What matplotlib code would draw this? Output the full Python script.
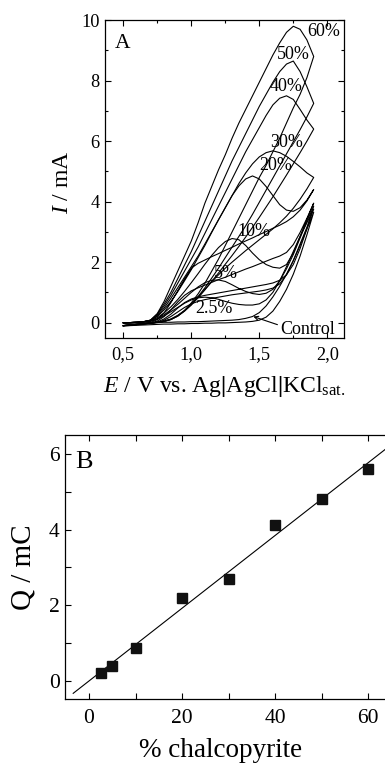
import matplotlib
matplotlib.use("Agg")
import matplotlib.pyplot as plt
import numpy as np
from matplotlib.ticker import MultipleLocator, FuncFormatter

plt.rcParams['font.family'] = ['Liberation Serif', 'DejaVu Serif']
plt.rcParams['mathtext.fontset'] = 'custom'
plt.rcParams['mathtext.rm'] = 'Liberation Serif'
plt.rcParams['mathtext.it'] = 'Liberation Serif:italic'
plt.rcParams['mathtext.bf'] = 'Liberation Serif:bold'

# ---------------- Panel A data (potential grid in V, currents in mA) -------------
E = [0.50, 0.55, 0.60, 0.65, 0.70, 0.75, 0.80, 0.85, 0.90, 0.95, 1.00, 1.05, 1.10, 1.15,
     1.20, 1.25, 1.30, 1.35, 1.40, 1.45, 1.50, 1.55, 1.60, 1.65, 1.70, 1.75, 1.80, 1.85, 1.90]

# forward (anodic) sweeps
fwd_60 = [0.00, 0.00, 0.01, 0.03, 0.08, 0.30, 0.70, 1.20, 1.70, 2.20, 2.70, 3.30, 3.95, 4.50,
          5.05, 5.55, 6.10, 6.60, 7.05, 7.50, 7.95, 8.40, 8.85, 9.25, 9.60, 9.80, 9.70, 9.35, 8.80]
fwd_50 = [0.00, 0.00, 0.01, 0.03, 0.08, 0.28, 0.62, 1.00, 1.45, 1.90, 2.35, 2.85, 3.35, 3.85,
          4.35, 4.85, 5.35, 5.80, 6.25, 6.70, 7.15, 7.55, 7.95, 8.30, 8.55, 8.65, 8.30, 7.80, 7.25]
fwd_40 = [0.00, 0.00, 0.01, 0.03, 0.08, 0.26, 0.55, 0.90, 1.30, 1.70, 2.10, 2.50, 2.95, 3.40,
          3.85, 4.30, 4.75, 5.20, 5.65, 6.05, 6.45, 6.85, 7.20, 7.42, 7.50, 7.38, 7.05, 6.70, 6.40]
fwd_30 = [0.00, 0.00, 0.01, 0.03, 0.07, 0.22, 0.48, 0.80, 1.15, 1.50, 1.85, 2.20, 2.60, 3.00,
          3.40, 3.80, 4.20, 4.60, 4.95, 5.25, 5.48, 5.62, 5.68, 5.62, 5.50, 5.33, 5.15, 4.95, 4.80]
fwd_20 = [0.00, 0.00, 0.01, 0.03, 0.07, 0.20, 0.42, 0.70, 1.02, 1.38, 1.75, 2.15, 2.55, 2.98,
          3.40, 3.80, 4.20, 4.52, 4.75, 4.85, 4.75, 4.50, 4.20, 3.90, 3.72, 3.68, 3.80, 4.05, 4.40]
fwd_10 = [0.00, 0.00, 0.01, 0.03, 0.06, 0.16, 0.32, 0.52, 0.76, 1.03, 1.32, 1.62, 1.93, 2.22,
          2.48, 2.68, 2.78, 2.74, 2.55, 2.30, 2.08, 1.92, 1.83, 1.80, 1.92, 2.30, 2.85, 3.40, 3.95]
fwd_5 = [0.00, 0.00, 0.01, 0.02, 0.05, 0.13, 0.26, 0.42, 0.60, 0.80, 1.00, 1.18, 1.32, 1.40,
         1.41, 1.36, 1.25, 1.13, 1.03, 0.96, 0.93, 0.97, 1.10, 1.38, 1.78, 2.25, 2.80, 3.35, 3.85]
fwd_2_5 = [0.00, 0.00, 0.01, 0.02, 0.04, 0.11, 0.22, 0.36, 0.50, 0.64, 0.75, 0.82, 0.84, 0.82,
           0.77, 0.70, 0.64, 0.60, 0.58, 0.58, 0.62, 0.75, 1.00, 1.38, 1.85, 2.35, 2.85, 3.30, 3.75]
fwd_ctrl = [-0.03, -0.02, -0.02, -0.01, 0.00, 0.00, 0.01, 0.01, 0.02, 0.02, 0.03, 0.03, 0.04, 0.05,
            0.06, 0.07, 0.08, 0.10, 0.14, 0.20, 0.33, 0.55, 0.85, 1.20, 1.60, 2.05, 2.55, 3.10, 3.65]

# reverse sweeps, listed on the same ascending potential grid
rev_60 = [-0.10, -0.08, -0.06, -0.04, -0.02, 0.01, 0.04, 0.10, 0.22, 0.40, 0.65, 0.95, 1.30, 1.70,
          2.10, 2.55, 3.00, 3.45, 3.90, 4.35, 4.80, 5.20, 5.65, 6.10, 6.60, 7.10, 7.55, 8.10, 8.80]
rev_50 = [-0.10, -0.08, -0.06, -0.04, -0.02, 0.01, 0.04, 0.10, 0.21, 0.38, 0.60, 0.86, 1.15, 1.47,
          1.80, 2.15, 2.50, 2.85, 3.20, 3.58, 3.98, 4.38, 4.78, 5.18, 5.58, 5.98, 6.38, 6.80, 7.25]
rev_40 = [-0.10, -0.08, -0.06, -0.04, -0.02, 0.01, 0.04, 0.11, 0.22, 0.38, 0.58, 0.82, 1.08, 1.36,
          1.64, 1.93, 2.22, 2.52, 2.83, 3.15, 3.48, 3.82, 4.16, 4.52, 4.88, 5.25, 5.62, 6.00, 6.40]
rev_30 = [-0.10, -0.08, -0.06, -0.04, -0.02, 0.01, 0.05, 0.12, 0.24, 0.40, 0.60, 0.85, 1.10, 1.35,
          1.58, 1.80, 2.00, 2.19, 2.38, 2.56, 2.74, 2.92, 3.10, 3.30, 3.52, 3.78, 4.08, 4.42, 4.80]
rev_20 = [-0.10, -0.08, -0.06, -0.03, 0.00, 0.10, 0.32, 0.66, 1.05, 1.45, 1.80, 1.96, 2.07, 2.18,
          2.28, 2.39, 2.49, 2.60, 2.70, 2.80, 2.91, 3.01, 3.12, 3.22, 3.34, 3.50, 3.72, 4.02, 4.40]
rev_10 = [-0.10, -0.08, -0.06, -0.04, -0.01, 0.05, 0.20, 0.42, 0.68, 0.90, 1.05, 1.15, 1.24, 1.33,
          1.42, 1.50, 1.59, 1.68, 1.77, 1.85, 1.94, 2.03, 2.12, 2.20, 2.32, 2.58, 2.98, 3.45, 3.95]
rev_5 = [-0.10, -0.08, -0.06, -0.04, -0.02, 0.02, 0.12, 0.28, 0.48, 0.66, 0.78, 0.85, 0.90, 0.94,
         0.98, 1.02, 1.06, 1.10, 1.14, 1.18, 1.22, 1.26, 1.31, 1.40, 1.58, 1.92, 2.45, 3.10, 3.85]
rev_2_5 = [-0.10, -0.08, -0.07, -0.05, -0.03, 0.00, 0.08, 0.20, 0.35, 0.50, 0.62, 0.70, 0.76, 0.80,
           0.84, 0.88, 0.92, 0.95, 0.98, 1.01, 1.04, 1.08, 1.14, 1.28, 1.58, 2.05, 2.60, 3.15, 3.75]
rev_ctrl = [-0.12, -0.10, -0.09, -0.08, -0.07, -0.06, -0.05, -0.05, -0.04, -0.04, -0.03, -0.03, -0.02, -0.02,
            -0.01, -0.01, 0.00, 0.01, 0.02, 0.04, 0.08, 0.18, 0.38, 0.70, 1.10, 1.60, 2.20, 2.90, 3.65]

forward = [fwd_ctrl, fwd_2_5, fwd_5, fwd_10, fwd_20, fwd_30, fwd_40, fwd_50, fwd_60]
reverse = [rev_ctrl, rev_2_5, rev_5, rev_10, rev_20, rev_30, rev_40, rev_50, rev_60]

curve_labels = ["2.5%", "5%", "10%", "20%", "30%", "40%", "50%", "60%"]
label_xy = [(1.17, 0.47), (1.255, 1.63), (1.46, 3.01), (1.62, 5.18),
            (1.70, 5.96), (1.70, 7.80), (1.748, 8.85), (1.97, 9.62)]

# ---------------- Panel B data -------------
pct = [2.5, 5, 10, 20, 30, 40, 50, 60]
charge = [0.20, 0.38, 0.88, 2.20, 2.70, 4.12, 4.80, 5.60]

# ---------------- Figure -------------
fig = plt.figure(figsize=(3.85, 7.63), dpi=100)

axA = fig.add_axes([0.2735, 0.5574, 0.620, 0.4161])
for f, r in zip(forward, reverse):
    xs = E + E[::-1]
    ys = f + r[::-1]
    axA.plot(xs, ys, color='black', lw=0.8)

for t, (x, y) in zip(curve_labels, label_xy):
    axA.text(x, y, t, ha='center', va='center', fontsize=13)

axA.annotate('Control', xy=(1.456, 0.2), xytext=(1.855, -0.24), ha='center', va='center',
             fontsize=13,
             arrowprops=dict(arrowstyle='->', lw=0.8, color='black', relpos=(0.0, 0.75),
                             shrinkA=0, shrinkB=0, mutation_scale=7))
axA.text(0.04, 0.927, 'A', transform=axA.transAxes, fontsize=15.5, ha='left', va='center')

axA.set_xlim(0.3676, 2.1228)
axA.set_ylim(-0.5, 10.0)
axA.xaxis.set_major_locator(MultipleLocator(0.5))
axA.xaxis.set_minor_locator(MultipleLocator(0.25))
axA.yaxis.set_major_locator(MultipleLocator(2))
axA.yaxis.set_minor_locator(MultipleLocator(1))
axA.xaxis.set_major_formatter(FuncFormatter(lambda v, p: f"{v:.1f}".replace('.', ',')))
axA.tick_params(which='both', direction='in', top=True, right=True, width=0.8)
axA.tick_params(which='major', length=4.5, labelsize=13.2)
axA.tick_params(which='minor', length=2.5)
axA.tick_params(axis='x', which='major', pad=6)
axA.tick_params(axis='y', which='major', pad=4)
for s in axA.spines.values():
    s.set_linewidth(0.9)

axA.text(-0.178, 0.49, r'$I$ / mA', transform=axA.transAxes, rotation=90,
         ha='center', va='center', fontsize=17)
axA.text(0.5, -0.172,
         r'$E$ / V vs. Ag$\mathbf{|}$AgCl$\mathbf{|}$KCl$_{\mathrm{sat.}}$',
         transform=axA.transAxes, ha='center', va='baseline', fontsize=17)

# Panel B
axB = fig.add_axes([0.1696, 0.0839, 0.8354, 0.3460])
coef = np.polyfit(pct, charge, 1)
xfit = np.array([-3.4, 66.0])
axB.plot(xfit, np.polyval(coef, xfit), color='black', lw=0.8)
axB.plot(pct, charge, linestyle='none', marker='s', markersize=7, color='#111111')

axB.set_xlim(-5.1, 64.06)
axB.set_ylim(-0.48, 6.5)
axB.xaxis.set_major_locator(MultipleLocator(20))
axB.xaxis.set_minor_locator(MultipleLocator(10))
axB.yaxis.set_major_locator(MultipleLocator(2))
axB.yaxis.set_minor_locator(MultipleLocator(1))
axB.tick_params(which='both', direction='in', top=True, right=False, width=0.8)
axB.tick_params(which='major', length=4.5, labelsize=15.5)
axB.tick_params(which='minor', length=4.5)
axB.tick_params(axis='x', which='major', pad=7)
axB.tick_params(axis='y', which='major', pad=4)
for s in axB.spines.values():
    s.set_linewidth(0.9)
axB.spines['right'].set_visible(False)

axB.text(0.03, 0.898, 'B', transform=axB.transAxes, fontsize=19, ha='left', va='center')
axB.text(-0.1315, 0.5, 'Q / mC', transform=axB.transAxes, rotation=90,
         ha='center', va='center', fontsize=21)
axB.text(0.484, -0.197, '% chalcopyrite', transform=axB.transAxes,
         ha='center', va='center', fontsize=19.5)

fig.savefig('out.png', dpi=100)
